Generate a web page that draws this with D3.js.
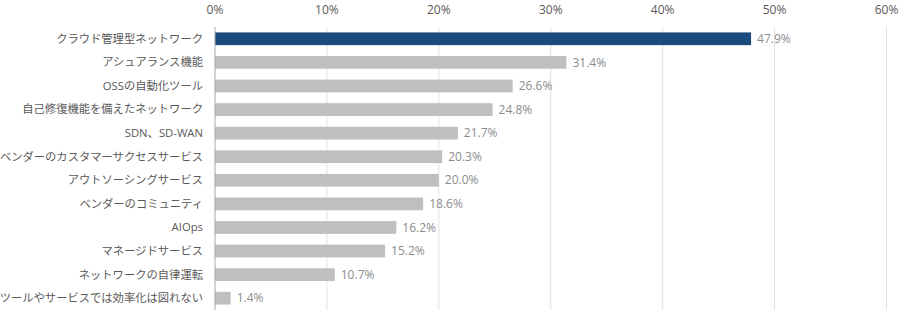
<!DOCTYPE html>
<html><head><meta charset="utf-8">
<script src="https://cdn.jsdelivr.net/npm/d3@7"></script>
<style>
body{margin:0;background:#fff;}
text{font-family:"Open Sans","Noto Sans CJK JP",sans-serif;}
</style></head>
<body><svg id="c" width="905" height="328"></svg>
<script>
const categories = ["クラウド管理型ネットワーク","アシュアランス機能","OSSの自動化ツール","自己修復機能を備えたネットワーク","SDN、SD-WAN","ベンダーのカスタマーサクセスサービス","アウトソーシングサービス","ベンダーのコミュニティ","AIOps","マネージドサービス","ネットワークの自律運転","ツールやサービスでは効率化は図れない"];
const values = [47.9,31.4,26.6,24.8,21.7,20.3,20.0,18.6,16.2,15.2,10.7,1.4];
const ticks = [0,10,20,30,40,50,60];

const svg = d3.select("#c");
const x = d3.scaleLinear().domain([0,60]).range([215,886.5]);
const y = d3.scaleBand().domain(categories).range([27,310]).paddingInner(0.46).paddingOuter(0.23);

svg.append("g").selectAll("line").data(ticks.slice(1)).join("line")
  .attr("x1",d=>x(d)).attr("x2",d=>x(d)).attr("y1",27).attr("y2",310)
  .attr("stroke","#e2e2e2").attr("stroke-width",1);

svg.append("g").selectAll("text").data(ticks).join("text")
  .attr("x",d=>x(d)).attr("y",14).attr("text-anchor","middle")
  .attr("font-size",12).attr("fill","#595959").text(d=>d+"%");

svg.append("g").selectAll("rect").data(values).join("rect")
  .attr("x",x(0)).attr("y",(d,i)=>y(categories[i]))
  .attr("width",d=>x(d)-x(0)).attr("height",y.bandwidth())
  .attr("fill",(d,i)=>i===0?"#1b4a7e":"#bfbfbf");

svg.append("line").attr("x1",x(0)).attr("x2",x(0)).attr("y1",27).attr("y2",310)
  .attr("stroke","#a6a6a6").attr("stroke-width",1);

svg.append("g").selectAll("text").data(categories).join("text")
  .attr("x",203).attr("y",d=>y(d)+y.bandwidth()/2).attr("dy","0.35em")
  .attr("text-anchor","end").attr("font-size",11.3).attr("fill","#595959").text(d=>d);

svg.append("g").selectAll("text").data(values).join("text")
  .attr("x",d=>x(d)+6).attr("y",(d,i)=>y(categories[i])+y.bandwidth()/2).attr("dy","0.35em")
  .attr("font-size",12).attr("fill","#8c8c8c").text(d=>d.toFixed(1)+"%");
</script></body></html>
